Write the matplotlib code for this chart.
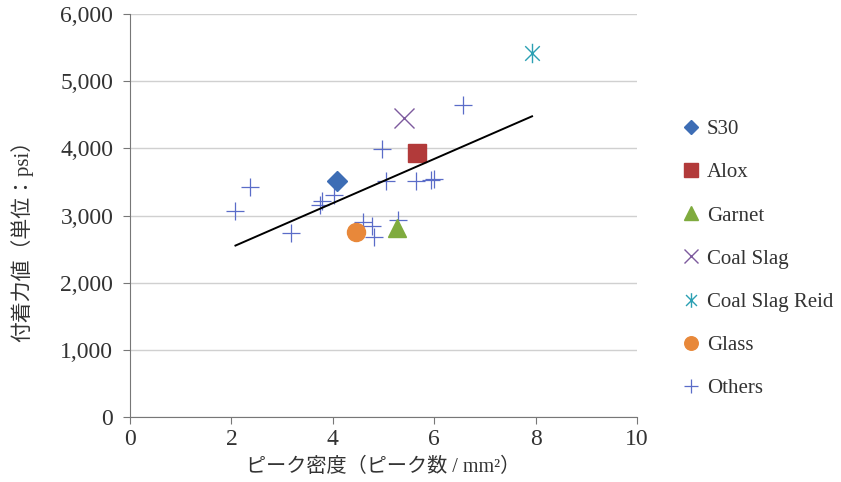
import matplotlib.pyplot as plt
import numpy as np
from matplotlib.path import Path

plt.rcParams['font.family'] = ['Liberation Serif', 'Noto Sans CJK JP']

# ピーク密度 / 付着力値
s30_x, s30_y = [4.08], [3518]
alox_x, alox_y = [5.67], [3925]
garnet_x, garnet_y = [5.27], [2815]
coal_x, coal_y = [5.41], [4450]
reid_x, reid_y = [7.93], [5416]
glass_x, glass_y = [4.45], [2750]
others_x = [6.57, 4.97, 5.05, 5.65, 5.93, 6.00, 2.37, 4.02, 3.79, 3.75,
            2.08, 3.18, 4.60, 4.78, 4.82, 5.29]
others_y = [4643, 3989, 3508, 3518, 3533, 3543, 3419, 3310, 3211, 3162,
            3067, 2740, 2899, 2840, 2681, 2929]
trend_slope, trend_icpt = 329, 1868

# X with a vertical bar, like the Excel star marker
star = Path([(0, -1), (0, 1), (-0.75, -0.75), (0.75, 0.75), (-0.75, 0.75), (0.75, -0.75)],
            [Path.MOVETO, Path.LINETO] * 3)

fig = plt.figure(figsize=(8.41, 4.82), dpi=100)
ax = fig.add_axes([130/841, 1 - 417/482, 507/841, 403/482])

ax.plot(others_x, others_y, '+', color='#5a6cc8', ms=13, mew=0.9, label='Others', zorder=3)
ax.plot(s30_x, s30_y, 'D', color='#3d6db5', ms=10, label='S30', zorder=4)
ax.plot(alox_x, alox_y, 's', color='#b23a3a', ms=13, label='Alox', zorder=4)
ax.plot(garnet_x, garnet_y, '^', color='#7fab3e', ms=13, label='Garnet', zorder=4)
ax.plot(coal_x, coal_y, 'x', color='#7d5a9e', ms=14, mew=1.0, label='Coal Slag', zorder=4)
ax.plot(reid_x, reid_y, marker=star, ls='none', color='#2ba0b3', ms=14, mew=1.0,
        label='Coal Slag Reid', zorder=4)
ax.plot(glass_x, glass_y, 'o', color='#e8883a', ms=13, label='Glass', zorder=4)

all_x = np.array(others_x + s30_x + alox_x + garnet_x + coal_x + reid_x + glass_x)
tx = np.array([all_x.min(), all_x.max()])
ax.plot(tx, trend_slope * tx + trend_icpt, color='black', lw=1.4, zorder=5)

ax.set_xlim(0, 10)
ax.set_ylim(0, 6000)
ax.set_xticks(range(0, 11, 2))
ax.set_yticks(range(0, 6001, 1000))
ax.yaxis.set_major_formatter(plt.FuncFormatter(lambda v, p: f'{int(v):,}'))
ax.grid(axis='y', color='#d0d0d0', lw=1)
ax.set_axisbelow(True)
for s in ['top', 'right']:
    ax.spines[s].set_visible(False)
for s in ['left', 'bottom']:
    ax.spines[s].set_color('#777777')
ax.tick_params(colors='#777777', labelcolor='#333333', labelsize=17, length=5)
ax.tick_params(axis='y', pad=7)

ax.set_ylabel('付着力値（単位：psi）', fontsize=15, color='#333333')
ax.yaxis.set_label_coords(-0.19, 0.45)
ax.set_xlabel('ピーク密度（ピーク数 / mm²）', fontsize=14.5, color='#333333', labelpad=6)

h, l = ax.get_legend_handles_labels()
order = ['S30', 'Alox', 'Garnet', 'Coal Slag', 'Coal Slag Reid', 'Glass', 'Others']
hd = dict(zip(l, h))
leg = fig.legend([hd[k] for k in order], order, loc='upper left',
                 bbox_to_anchor=(662/841, 1 - 101/482), frameon=False,
                 fontsize=15, labelspacing=1.13, handlelength=1.0, handletextpad=0.25,
                 markerscale=0.75, labelcolor='#333333')

fig.savefig('out.png', dpi=100)
